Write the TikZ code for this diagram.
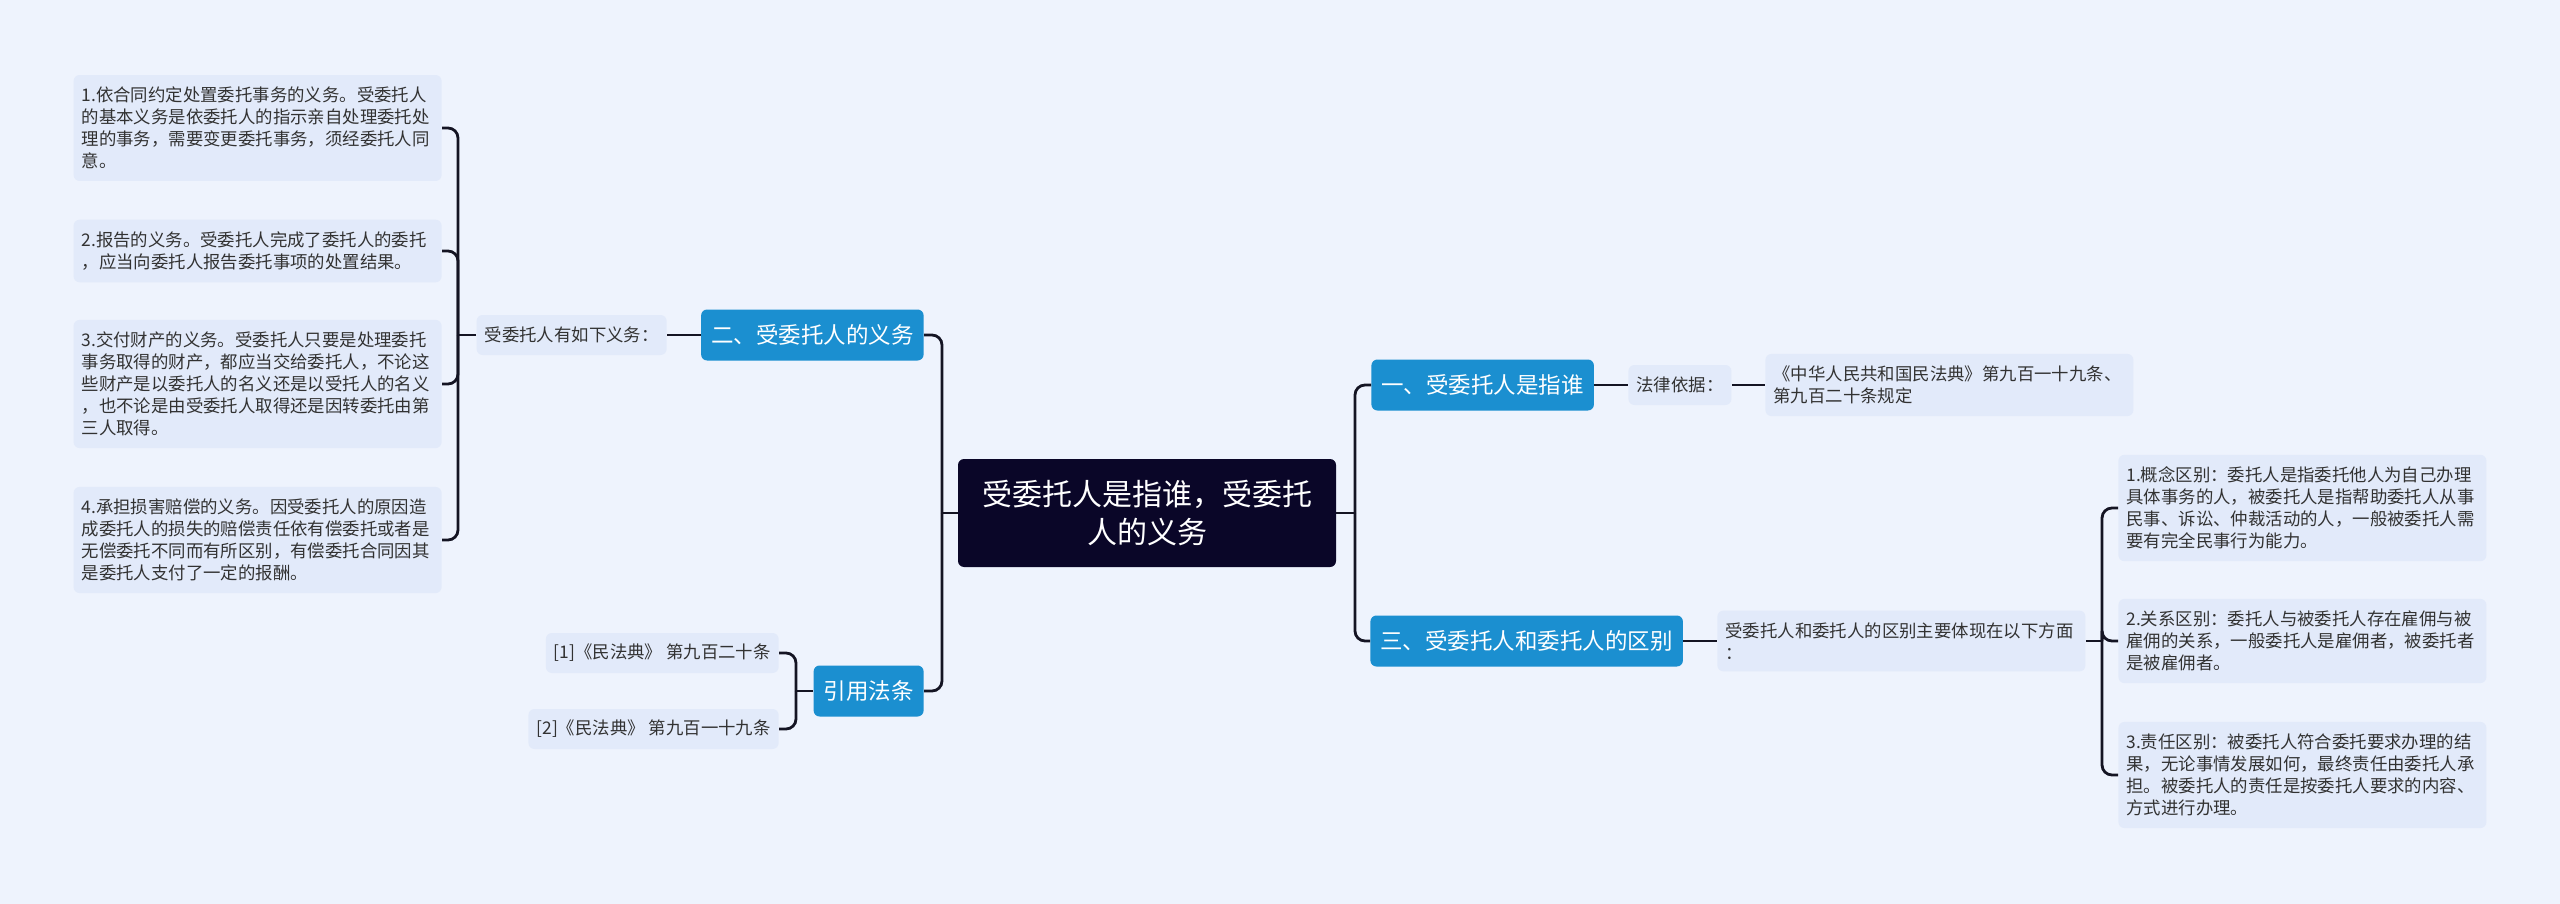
\documentclass[tikz,border=0pt]{standalone}
\usepackage{fontspec}
\setmainfont{Noto Sans CJK SC}
\usepackage{tikz}
\definecolor{bgblue}{RGB}{238,243,253}
\definecolor{leafblue}{RGB}{226,234,250}
\definecolor{topicblue}{RGB}{27,143,208}
\definecolor{rootnavy}{RGB}{10,6,40}
\definecolor{linedark}{RGB}{20,20,35}
\definecolor{textgrey}{RGB}{50,50,50}

\begin{document}
\begin{tikzpicture}[x=0.5pt, y=-0.5pt,
  rootbox/.style={fill=rootnavy, text=white, rounded corners=3pt, align=center,
    font=\fontsize{15}{19}\selectfont, minimum width=189pt, minimum height=54pt},
  topicbox/.style={fill=topicblue, text=white, rounded corners=3pt,
    font=\fontsize{11.25}{14}\selectfont, inner xsep=5pt, minimum height=25.5pt},
  leafbox/.style={fill=leafblue, text=textgrey, rounded corners=3pt, align=left,
    font=\fontsize{8.7}{11}\selectfont, text width=176pt, inner xsep=4pt, inner ysep=6pt},
  tagbox/.style={fill=leafblue, text=textgrey, rounded corners=3pt,
    font=\fontsize{8.7}{11}\selectfont, inner xsep=4pt, minimum height=20pt},
  conn/.style={draw=linedark, line width=1.4pt, rounded corners=5pt}]

  \fill[bgblue] (0,0) rectangle (2560,904);

  \node[rootbox] (r) at (1147,513) {受委托人是指谁，受委托\\人的义务};

  \node[topicbox, anchor=west] (t1) at (1371,385) {一、受委托人是指谁};
  \node[topicbox, anchor=east] (t2) at (924,335) {二、受委托人的义务};
  \node[topicbox, anchor=west] (t3) at (1370,641) {三、受委托人和委托人的区别};
  \node[topicbox, anchor=east] (t4) at (924,691) {引用法条};

  %legal basis
  \node[tagbox, anchor=west] (t1a) at (1628,385) {法律依据：};
  \node[leafbox, anchor=west] (t1b) at (1765,385) {《中华人民共和国民法典》第九百一十九条、\\第九百二十条规定};

  %duties
  \node[tagbox, anchor=east] (t2a) at (667,335) {受委托人有如下义务：};
  \node[leafbox, anchor=east] (d1) at (442,128) {1.依合同约定处置委托事务的义务。受委托人\\的基本义务是依委托人的指示亲自处理委托处\\理的事务，需要变更委托事务，须经委托人同\\意。};
  \node[leafbox, anchor=east] (d2) at (442,251) {2.报告的义务。受委托人完成了委托人的委托\\，应当向委托人报告委托事项的处置结果。};
  \node[leafbox, anchor=east] (d3) at (442,384) {3.交付财产的义务。受委托人只要是处理委托\\事务取得的财产，都应当交给委托人，不论这\\些财产是以委托人的名义还是以受托人的名义\\，也不论是由受委托人取得还是因转委托由第\\三人取得。};
  \node[leafbox, anchor=east] (d4) at (442,540) {4.承担损害赔偿的义务。因受委托人的原因造\\成委托人的损失的赔偿责任依有偿委托或者是\\无偿委托不同而有所区别，有偿委托合同因其\\是委托人支付了一定的报酬。};

  %differences
  \node[leafbox, anchor=west] (t3a) at (1717,641) {受委托人和委托人的区别主要体现在以下方面\\：};
  \node[leafbox, anchor=west] (c1) at (2118,508) {1.概念区别：委托人是指委托他人为自己办理\\具体事务的人，被委托人是指帮助委托人从事\\民事、诉讼、仲裁活动的人，一般被委托人需\\要有完全民事行为能力。};
  \node[leafbox, anchor=west] (c2) at (2118,641) {2.关系区别：委托人与被委托人存在雇佣与被\\雇佣的关系，一般委托人是雇佣者，被委托者\\是被雇佣者。};
  \node[leafbox, anchor=west] (c3) at (2118,775) {3.责任区别：被委托人符合委托要求办理的结\\果，无论事情发展如何，最终责任由委托人承\\担。被委托人的责任是按委托人要求的内容、\\方式进行办理。};

  %references
  \node[tagbox, anchor=east] (q1) at (779,653) {[1]《民法典》 第九百二十条};
  \node[tagbox, anchor=east] (q2) at (779,729) {[2]《民法典》 第九百一十九条};

  \coordinate (jl) at (942,513);
  \coordinate (jr) at (1355,513);
  \coordinate (jd) at (458,335);
  \coordinate (jc) at (2102,641);
  \coordinate (jq) at (796,691);

  \draw[conn] (r.west) -- (jl);
  \draw[conn] (jl) |- (t2.east);
  \draw[conn] (jl) |- (t4.east);
  \draw[conn] (r.east) -- (jr);
  \draw[conn] (jr) |- (t1.west);
  \draw[conn] (jr) |- (t3.west);

  \draw[conn] (t1.east) -- (t1a.west);
  \draw[conn] (t1a.east) -- (t1b.west);

  \draw[conn] (t2.west) -- (t2a.east);
  \draw[conn] (t2a.west) -- (jd);
  \foreach \i in {1,...,4}
    \draw[conn] (jd) |- (d\i.east);

  \draw[conn] (t3.east) -- (t3a.west);
  \draw[conn] (t3a.east) -- (jc);
  \foreach \i in {1,...,3}
    \draw[conn] (jc) |- (c\i.west);

  \draw[conn] (t4.west) -- (jq);
  \draw[conn] (jq) |- (q1.east);
  \draw[conn] (jq) |- (q2.east);
\end{tikzpicture}
\end{document}
